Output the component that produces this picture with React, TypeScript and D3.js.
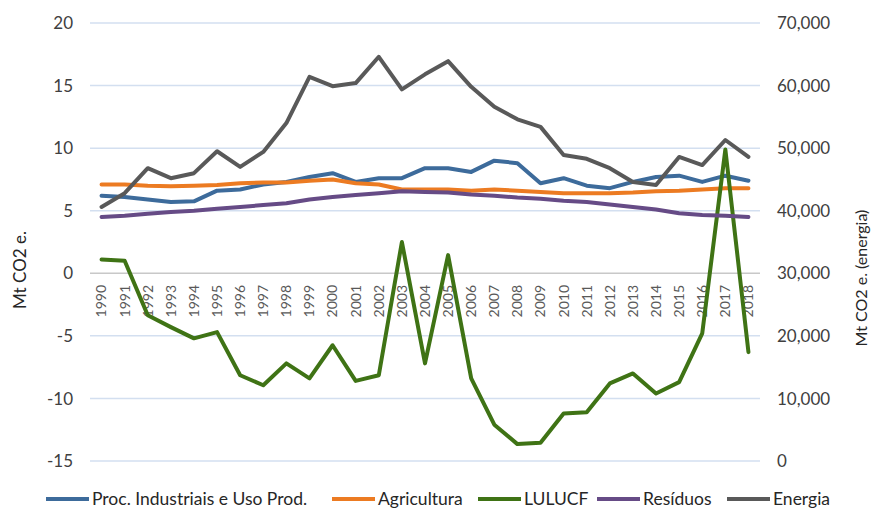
import React from 'react';
import * as d3 from 'd3';

const years = d3.range(1990, 2019).map(String);

// left axis (Mt CO2 e.)
const procIndustriais = [6.2, 6.1, 5.9, 5.7, 5.75, 6.6, 6.7, 7.1, 7.3, 7.7, 8.0, 7.3, 7.6, 7.6, 8.4, 8.4, 8.1, 9.0, 8.8, 7.2, 7.6, 7.0, 6.8, 7.3, 7.7, 7.8, 7.3, 7.8, 7.4];
const agricultura = [7.1, 7.1, 7.0, 6.95, 7.0, 7.05, 7.2, 7.25, 7.25, 7.4, 7.5, 7.2, 7.1, 6.7, 6.7, 6.7, 6.6, 6.7, 6.6, 6.5, 6.4, 6.4, 6.4, 6.45, 6.55, 6.6, 6.7, 6.8, 6.8];
const lulucf = [1.1, 1.0, -3.35, -4.3, -5.2, -4.7, -8.15, -8.95, -7.2, -8.4, -5.75, -8.6, -8.15, 2.5, -7.2, 1.45, -8.4, -12.1, -13.65, -13.55, -11.2, -11.1, -8.8, -8.0, -9.6, -8.7, -4.8, 9.9, -6.3];
const residuos = [4.5, 4.6, 4.75, 4.9, 5.0, 5.15, 5.3, 5.45, 5.6, 5.9, 6.1, 6.25, 6.4, 6.55, 6.5, 6.45, 6.3, 6.2, 6.05, 5.95, 5.8, 5.7, 5.5, 5.3, 5.1, 4.8, 4.65, 4.6, 4.5];
// right axis (energia)
const energia = [40600, 42800, 46800, 45200, 46000, 49500, 47000, 49400, 54000, 61400, 59900, 60400, 64600, 59400, 61800, 63900, 59800, 56600, 54600, 53400, 48900, 48300, 46800, 44600, 44100, 48600, 47300, 51300, 48600];

const leftTicks = [-15, -10, -5, 0, 5, 10, 15, 20];
const rightTicks = [0, 10000, 20000, 30000, 40000, 50000, 60000, 70000];

const series = [
  { name: 'Proc. Industriais e Uso Prod.', values: procIndustriais, color: '#3d6b9b', axis: 'left' },
  { name: 'Agricultura', values: agricultura, color: '#ec7b22', axis: 'left' },
  { name: 'LULUCF', values: lulucf, color: '#3f7315', axis: 'left' },
  { name: 'Resíduos', values: residuos, color: '#664b86', axis: 'left' },
  { name: 'Energia', values: energia, color: '#595959', axis: 'right' },
];

const legendX = [46, 332, 478, 597, 727];
const font = 'Lato, "Open Sans", sans-serif';

export default function App() {
  const width = 872;
  const height = 510;
  const x = d3.scalePoint().domain(years).range([90, 760]).padding(0.5);
  const yL = d3.scaleLinear().domain([-15, 20]).range([461, 23]);
  const yR = d3.scaleLinear().domain([0, 70000]).range([461, 23]);
  const fmt = d3.format(',');

  return (
    <div>
      <style>{`body{margin:0}`}</style>
      <svg width={width} height={height} style={{ display: 'block', background: '#fff' }} fontFamily={font}>
        {/* gridlines */}
        {leftTicks.map(t => (
          <line key={t} x1={90} x2={760} y1={yL(t)} y2={yL(t)}
            stroke={t === 0 ? '#c8c8c8' : '#d3dff0'} strokeWidth={1.5} />
        ))}
        {/* left ticks */}
        {leftTicks.map(t => (
          <text key={t} x={73} y={yL(t)} dy="0.36em" textAnchor="end" fontSize={17} fill="#404040">{t}</text>
        ))}
        {/* right ticks */}
        {rightTicks.map(t => (
          <text key={t} x={777} y={yR(t)} dy="0.36em" textAnchor="start" fontSize={17} fill="#404040">{fmt(t)}</text>
        ))}
        {/* year labels */}
        {years.map(yr => (
          <text key={yr} transform={`translate(${x(yr)},285) rotate(-90)`} dy="0.35em"
            textAnchor="end" fontSize={14} fill="#595959">{yr}</text>
        ))}
        {/* axis titles */}
        <text transform="translate(20,270) rotate(-90)" dy="0.35em" textAnchor="middle" fontSize={17} fill="#262626">Mt CO2 e.</text>
        <text transform="translate(861,278) rotate(-90)" dy="0.35em" textAnchor="middle" fontSize={16} fill="#262626">Mt CO2 e. (energia)</text>
        {/* lines */}
        {series.map(s => {
          const yS = s.axis === 'left' ? yL : yR;
          const line = d3.line<number>()
            .x((_, i) => x(years[i]) as number)
            .y(d => yS(d));
          return (
            <path key={s.name} d={line(s.values) || ''} fill="none" stroke={s.color}
              strokeWidth={4} strokeLinejoin="round" strokeLinecap="round" />
          );
        })}
        {/* legend */}
        {series.map((s, i) => (
          <g key={s.name}>
            <line x1={legendX[i]} x2={legendX[i] + 43} y1={499} y2={499} stroke={s.color} strokeWidth={4} />
            <text x={legendX[i] + 46} y={499} dy="0.35em" fontSize={17.5} fill="#262626">{s.name}</text>
          </g>
        ))}
      </svg>
    </div>
  );
}
